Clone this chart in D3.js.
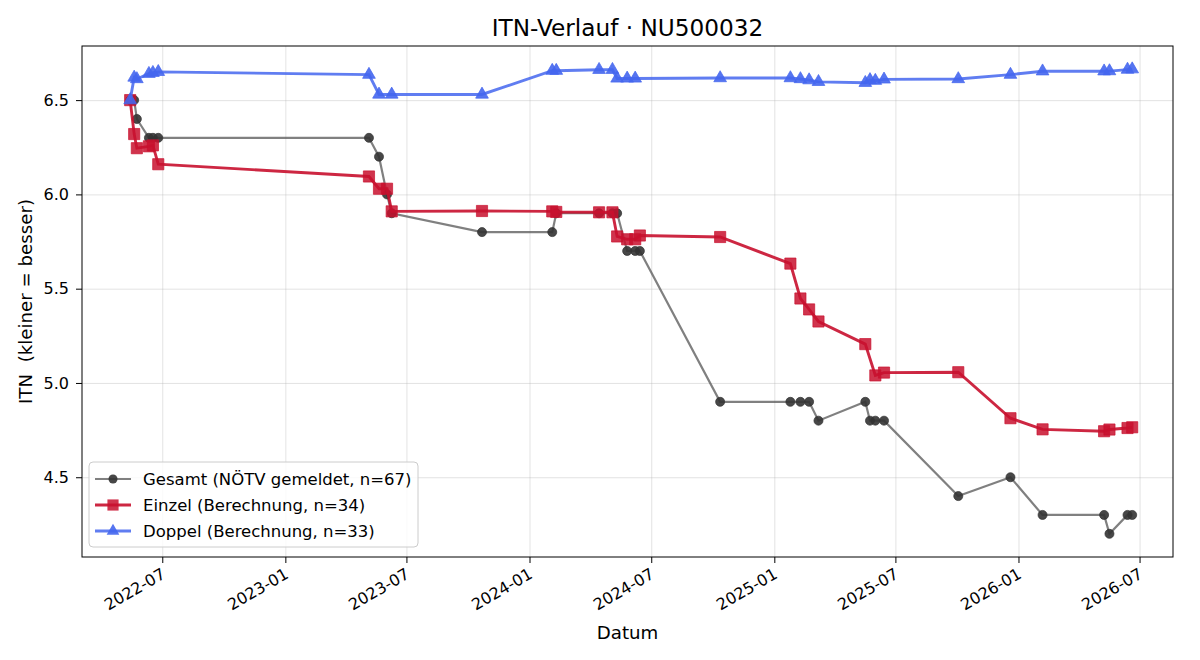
<!DOCTYPE html>
<html>
<head>
<meta charset="utf-8">
<script src="https://cdn.jsdelivr.net/npm/d3@7"></script>
<style>
  body { margin: 0; background: #fff; }
  svg { font-family: "DejaVu Sans", sans-serif; }
  .grid line { stroke: #b0b0b0; stroke-opacity: 0.35; }
  .grid path { display: none; }
  .axis path, .axis line { stroke: #000; }
</style>
</head>
<body>
<div id="chart"></div>
<script>
// --- data ---
var gesamtDates = ["2022-05-14","2022-05-20","2022-05-24","2022-06-11","2022-06-17","2022-06-25",
  "2023-05-06","2023-05-21","2023-06-02","2023-06-09","2023-10-22",
  "2024-02-04","2024-02-10","2024-04-14","2024-05-04","2024-05-11","2024-05-26","2024-06-07","2024-06-14","2024-10-12",
  "2025-01-25","2025-02-09","2025-02-22","2025-03-08","2025-05-17","2025-05-24","2025-06-01","2025-06-14","2025-10-03","2025-12-20",
  "2026-02-06","2026-05-09","2026-05-17","2026-06-13","2026-06-20"];
var gesamtValues = [6.5,6.5,6.4,6.3,6.3,6.3,
  6.3,6.2,6.0,5.9,5.8,
  5.8,5.9,5.9,5.9,5.9,5.7,5.7,5.7,4.9,
  4.9,4.9,4.9,4.8,4.9,4.8,4.8,4.8,4.4,4.5,
  4.3,4.3,4.2,4.3,4.3];

var einzelDates = ["2022-05-14","2022-05-20","2022-05-24","2022-06-11","2022-06-17","2022-06-25",
  "2023-05-06","2023-05-21","2023-06-02","2023-06-09","2023-10-22",
  "2024-02-04","2024-02-10","2024-04-14","2024-05-04","2024-05-11","2024-05-26","2024-06-07","2024-06-14","2024-10-12",
  "2025-01-25","2025-02-09","2025-02-22","2025-03-08","2025-05-17","2025-06-01","2025-06-14","2025-10-03","2025-12-20",
  "2026-02-06","2026-05-09","2026-05-17","2026-06-13","2026-06-20"];
var einzelValues = [6.50,6.32,6.245,6.255,6.26,6.16,
  6.095,6.03,6.03,5.91,5.912,
  5.91,5.907,5.905,5.905,5.777,5.762,5.762,5.782,5.774,
  5.633,5.448,5.39,5.326,5.206,5.04,5.055,5.057,4.813,
  4.754,4.744,4.753,4.761,4.765];

var doppelDates = ["2022-05-14","2022-05-20","2022-05-24","2022-06-11","2022-06-17","2022-06-25",
  "2023-05-06","2023-05-21","2023-06-09","2023-10-22",
  "2024-02-04","2024-02-10","2024-04-14","2024-05-04","2024-05-11","2024-05-26","2024-06-07","2024-10-12",
  "2025-01-25","2025-02-09","2025-02-22","2025-03-08","2025-05-17","2025-05-24","2025-06-01","2025-06-14","2025-10-03","2025-12-20",
  "2026-02-06","2026-05-09","2026-05-17","2026-06-13","2026-06-20"];
var doppelValues = [6.50,6.62,6.612,6.64,6.645,6.65,
  6.635,6.53,6.53,6.53,
  6.656,6.656,6.661,6.661,6.615,6.615,6.615,6.617,
  6.617,6.612,6.606,6.597,6.592,6.607,6.603,6.61,6.612,6.635,
  6.653,6.653,6.654,6.662,6.664];

var xDomain = ["2022-03-03","2026-08-20"];
var yDomain = [4.077, 6.787];
var yTicks = [4.5, 5.0, 5.5, 6.0, 6.5];
var legendLabels = ["Gesamt (NÖTV gemeldet, n=67)","Einzel (Berechnung, n=34)","Doppel (Berechnung, n=33)"];

(function(){
  var width = 1200, height = 660;
  var margin = {top: 46, right: 27, bottom: 103, left: 82};
  var iw = width - margin.left - margin.right;
  var ih = height - margin.top - margin.bottom;
  var parse = d3.timeParse("%Y-%m-%d");

  function zip(dates, values){
    return dates.map(function(d, i){ return {date: parse(d), value: values[i]}; });
  }

  var series = [
    {name: legendLabels[0], data: zip(gesamtDates, gesamtValues), line: "#555555", lineOp: 0.75, lw: 2.2,
     fill: "#333333", fillOp: 0.9, shape: d3.symbolCircle, size: 64},
    {name: legendLabels[1], data: zip(einzelDates, einzelValues), line: "#c8102e", lineOp: 0.9, lw: 2.9,
     fill: "#c8102e", fillOp: 0.85, shape: d3.symbolSquare, size: 125},
    {name: legendLabels[2], data: zip(doppelDates, doppelValues), line: "#4466ee", lineOp: 0.85, lw: 2.9,
     fill: "#4466ee", fillOp: 0.9, shape: d3.symbolTriangle, size: 70}
  ];

  var svg = d3.select("#chart").append("svg")
    .attr("width", width).attr("height", height);

  var g = svg.append("g").attr("transform", "translate(" + margin.left + "," + margin.top + ")");

  var x = d3.scaleTime().domain(xDomain.map(parse)).range([0, iw]);
  var y = d3.scaleLinear().domain(yDomain).range([ih, 0]);
  var xTicks = d3.timeMonth.every(6).range(parse("2022-07-01"), parse("2026-07-02"));

  // grid
  g.append("g").attr("class", "grid")
    .attr("transform", "translate(0," + ih + ")")
    .call(d3.axisBottom(x).tickValues(xTicks).tickSize(-ih).tickFormat(""));
  g.append("g").attr("class", "grid")
    .call(d3.axisLeft(y).tickValues(yTicks).tickSize(-iw).tickFormat(""));

  // lines + markers
  var line = d3.line().x(function(d){ return x(d.date); }).y(function(d){ return y(d.value); });

  series.forEach(function(s){
    g.append("path").datum(s.data)
      .attr("fill", "none")
      .attr("stroke", s.line)
      .attr("stroke-opacity", s.lineOp)
      .attr("stroke-width", s.lw)
      .attr("d", line);
    g.selectAll(null).data(s.data).enter().append("path")
      .attr("transform", function(d){ return "translate(" + x(d.date) + "," + y(d.value) + ")"; })
      .attr("d", d3.symbol().type(s.shape).size(s.size))
      .attr("fill", s.fill)
      .attr("fill-opacity", s.fillOp)
      .attr("stroke", s.fill)
      .attr("stroke-opacity", s.fillOp)
      .attr("stroke-width", 0.8);
  });

  // axes
  var xa = g.append("g").attr("class", "axis")
    .attr("transform", "translate(0," + ih + ")")
    .call(d3.axisBottom(x).tickValues(xTicks).tickSize(6).tickPadding(6).tickFormat(d3.timeFormat("%Y-%m")));
  xa.select(".domain").remove();
  xa.selectAll("text")
    .attr("font-size", 16)
    .attr("font-family", "DejaVu Sans")
    .attr("text-anchor", "end")
    .attr("dy", "0.71em")
    .attr("transform", "translate(-8,0) rotate(-30)");

  var ya = g.append("g").attr("class", "axis")
    .call(d3.axisLeft(y).tickValues(yTicks).tickSize(6).tickPadding(7).tickFormat(d3.format(".1f")));
  ya.select(".domain").remove();
  ya.selectAll("text").attr("font-size", 16).attr("font-family", "DejaVu Sans");

  g.append("rect").attr("width", iw).attr("height", ih)
    .attr("fill", "none").attr("stroke", "#000").attr("stroke-width", 1);

  // titles
  svg.append("text").attr("x", margin.left + iw / 2).attr("y", 36)
    .attr("text-anchor", "middle").attr("font-size", 23.2).text("ITN-Verlauf · NU500032");
  svg.append("text").attr("x", margin.left + iw / 2).attr("y", 639)
    .attr("text-anchor", "middle").attr("font-size", 18.2).text("Datum");
  svg.append("text")
    .attr("transform", "translate(32," + (margin.top + ih / 2) + ") rotate(-90)")
    .attr("text-anchor", "middle").attr("font-size", 18.2)
    .style("white-space", "pre")
    .text("ITN  (kleiner = besser)");

  // legend
  var lg = g.append("g").attr("transform", "translate(7," + (ih - 95) + ")");
  lg.append("rect").attr("width", 329).attr("height", 85).attr("rx", 4)
    .attr("fill", "#fff").attr("fill-opacity", 0.8).attr("stroke", "#cccccc");
  series.forEach(function(s, i){
    var row = lg.append("g").attr("transform", "translate(0," + (17 + i * 26) + ")");
    row.append("line").attr("x1", 6).attr("x2", 42)
      .attr("stroke", s.line).attr("stroke-opacity", s.lineOp).attr("stroke-width", s.lw);
    row.append("path").attr("transform", "translate(24,0)")
      .attr("d", d3.symbol().type(s.shape).size(s.size))
      .attr("fill", s.fill).attr("fill-opacity", s.fillOp);
    row.append("text").attr("x", 54).attr("dy", "0.35em")
      .attr("font-size", 16.5).text(s.name);
  });
})();
</script>
</body>
</html>
